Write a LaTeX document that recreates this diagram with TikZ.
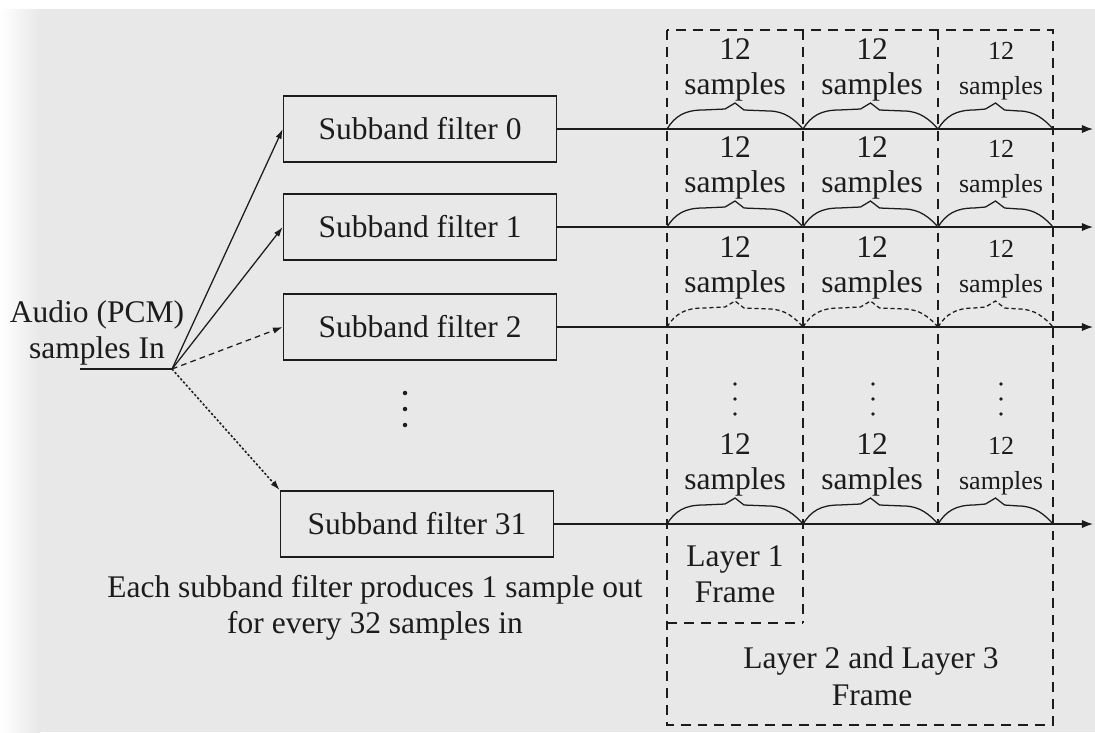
\documentclass[tikz,border=0pt]{standalone}
\usepackage{fontspec}
\setmainfont{Liberation Serif}
\usetikzlibrary{arrows.meta}

\definecolor{paper}{RGB}{232,232,232}
\definecolor{ink}{RGB}{28,28,28}

\begin{document}
\begin{tikzpicture}[x=0.025cm,y=-0.025cm,
  every node/.style={text=ink, font=\fontsize{22.4}{25.6}\selectfont},
  filterbox/.style={draw=ink, line width=1.2pt, fill=paper,
    minimum width=194pt, minimum height=47pt, inner sep=0pt},
  label/.style={anchor=base, inner sep=0pt},
  small label/.style={label, font=\fontsize{18.5}{21}\selectfont},
  dotmark/.style={circle, fill=ink, inner sep=0pt, minimum size=3.2pt},
  framedash/.style={draw=ink, line width=1pt, dash pattern=on 7pt off 5pt},
  signal/.style={draw=ink, line width=1pt, -{Latex[length=8pt,width=6pt]}},
  feed/.style={draw=ink, line width=0.9pt, -{Latex[length=7pt,width=4.5pt]}},
  pics/sbrace/.style={code={
    \draw[ink, line width=0.9pt]
      (0,0) .. controls (8,-13) and (18,-19) .. (36,-19)
      -- ({#1/2-10},-20) -- ({#1/2},-26) -- ({#1/2+9},-19)
      -- ({#1-34},-18) .. controls ({#1-18},-18) and ({#1-8},-9) .. (#1,0);
  }}
]
% page
\useasboundingbox (0,0) rectangle (1095,732);
\fill[paper] (0,0) rectangle (1095,732);
\fill[white] (0,0) rectangle (1095,9);
\shade[left color=white, right color=paper] (0,9) rectangle (40,732);

% input
\node[label] (audio) at (97,322) {Audio (PCM)};
\node[label] (samplesin) at (97,358) {samples In};
\coordinate (start) at (80,369);
\coordinate (hub) at (172,369);
\draw[ink, line width=1pt] (start) -- (hub);

% filter bank
\node[filterbox] (f0) at (420,129) {Subband filter 0};
\node[filterbox] (f1) at (420,227) {Subband filter 1};
\node[filterbox] (f2) at (420,327) {Subband filter 2};
\node[filterbox] (f31) at (417,524) {Subband filter 31};
\foreach \k/\yy in {1/393,2/409,3/425}{
  \node[dotmark] (gap\k) at (405,\yy) {};
}

\draw[feed] (hub) -- (f0.west);
\draw[feed] (hub) -- (f1.west);
\draw[feed, dash pattern=on 4pt off 3pt] (hub) -- (f2.west);
\draw[feed, line width=1.1pt, dash pattern=on 1.6pt off 1.4pt] (hub) -- (f31.north west);

\node[label] (cap1) at (375,597) {Each subband filter produces 1 sample out};
\node[label] (cap2) at (375,633) {for every 32 samples in};

% output streams
\foreach \r/\yy in {0/129,1/227,2/327,31/524}{
  \coordinate (out\r) at (1093,\yy);
  \draw[signal] (f\r.east) -- (out\r);
}

% frame outlines
\draw[framedash] (667,30) rectangle (1053,725);
\draw[framedash] (803,30) -- (803,623);
\draw[framedash] (667,623) -- (803,623);
\draw[framedash] (938,30) -- (938,524);

% groups of 12 samples
\foreach \r/\yy/\bs in {0/129/solid,1/227/solid,2/327/densely dashed,31/524/solid}{
  \pic[\bs] at (667,\yy) {sbrace=136};
  \pic[\bs] at (803,\yy) {sbrace=135};
  \pic[\bs] at (938,\yy) {sbrace=115};
  \foreach \cx/\c in {735/a,872/b}{
    \node[label] (n\r\c) at (\cx,\yy-70) {12};
    \node[label] (s\r\c) at (\cx,\yy-35) {samples};
  }
  \node[small label] (n\r c) at (1001,\yy-70) {12};
  \node[small label] (s\r c) at (1001,\yy-35) {samples};
}
\foreach \cx/\c in {735/a,873/b,1001/c}{
  \foreach \k/\yy in {1/384,2/399,3/414}{
    \node[dotmark, minimum size=2.8pt] (dots\c\k) at (\cx,\yy) {};
  }
}

% frame labels
\node[label] (l1a) at (735,566) {Layer 1};
\node[label] (l1b) at (735,602) {Frame};
\node[label] (l2a) at (871,668) {Layer 2 and Layer 3};
\node[label] (l2b) at (872,705) {Frame};
\end{tikzpicture}
\end{document}
